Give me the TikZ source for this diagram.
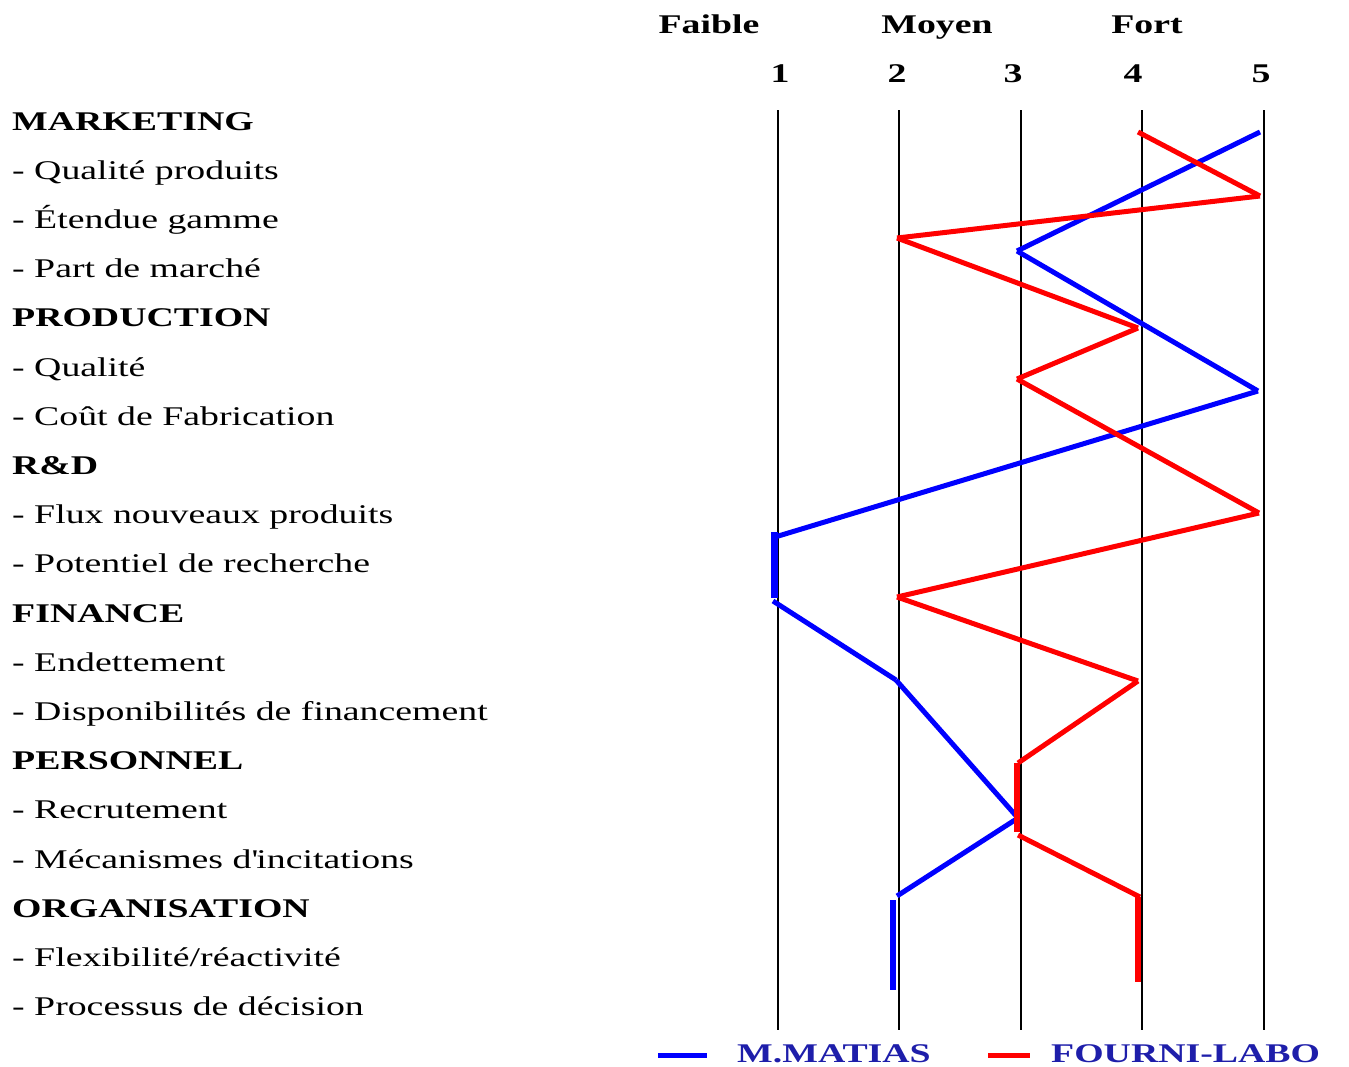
\documentclass[tikz,border=0pt]{standalone}
\usepackage{fontspec}
\setmainfont[FakeStretch=1.4]{Liberation Serif}
\definecolor{legtext}{RGB}{30,30,170}
\definecolor{pblue}{RGB}{0,0,255}
\definecolor{pred}{RGB}{255,0,0}
\begin{document}
\begin{tikzpicture}[x=1pt,y=-1pt,
  lab/.style={anchor=base west, inner sep=0pt, font=\fontsize{27}{30}\selectfont},
  cat/.style={anchor=base west, inner sep=0pt, font=\fontsize{27}{30}\selectfont\bfseries},
  hd/.style={anchor=base, inner sep=0pt, font=\fontsize{27}{30}\selectfont\bfseries},
  leg/.style={anchor=base west, inner sep=0pt, font=\fontsize{27}{30}\selectfont\bfseries, text=legtext},
  grid/.style={draw=black, line width=1.8pt},
  bl/.style={draw=pblue, line width=5pt},
  rd/.style={draw=pred, line width=5pt},
  blbar/.style={draw=pblue, line width=6.5pt},
  rdbar/.style={draw=pred, line width=6.5pt}]
\useasboundingbox (0,0) rectangle (1349,1066);

% headers
\node[hd] (hf) at (709,33) {Faible};
\node[hd] (hm) at (937,33) {Moyen};
\node[hd] (ht) at (1147,33) {Fort};
\node[hd] (n1) at (780,82) {1};
\node[hd] (n2) at (897,82) {2};
\node[hd] (n3) at (1013,82) {3};
\node[hd] (n4) at (1133,82) {4};
\node[hd] (n5) at (1261,82) {5};

% row labels
\node[cat] (r0)  at (12,130.0) {MARKETING};
\node[lab] (r1)  at (12,179.2) {- Qualité produits};
\node[lab] (r2)  at (12,228.4) {- Étendue gamme};
\node[lab] (r3)  at (12,277.6) {- Part de marché};
\node[cat] (r4)  at (12,326.8) {PRODUCTION};
\node[lab] (r5)  at (12,376.0) {- Qualité};
\node[lab] (r6)  at (12,425.2) {- Coût de Fabrication};
\node[cat] (r7)  at (12,474.4) {R\&D};
\node[lab] (r8)  at (12,523.6) {- Flux nouveaux produits};
\node[lab] (r9)  at (12,572.8) {- Potentiel de recherche};
\node[cat] (r10) at (12,622.0) {FINANCE};
\node[lab] (r11) at (12,671.2) {- Endettement};
\node[lab] (r12) at (12,720.4) {- Disponibilités de financement};
\node[cat] (r13) at (12,769.6) {PERSONNEL};
\node[lab] (r14) at (12,818.8) {- Recrutement};
\node[lab] (r15) at (12,868.0) {- Mécanismes d\textquotesingle incitations};
\node[cat] (r16) at (12,917.2) {ORGANISATION};
\node[lab] (r17) at (12,966.4) {- Flexibilité/réactivité};
\node[lab] (r18) at (12,1015.6) {- Processus de décision};

% grid lines
\foreach \x [count=\k] in {778,899,1021,1142,1264}{
  \coordinate (gt\k) at (\x,110);
  \coordinate (gb\k) at (\x,1030);
  \draw[grid] (gt\k) -- (gb\k);
}

% blue profile (M.MATIAS)
\coordinate (B1) at (1260,132);
\coordinate (B2) at (1017,251);
\coordinate (B3) at (1258,391);
\coordinate (B4) at (775,537);
\coordinate (B4a) at (774.5,532);
\coordinate (B4b) at (774.5,598);
\coordinate (B5) at (773,601);
\coordinate (B6) at (896,680);
\coordinate (B7) at (1018,818);
\coordinate (B8) at (897,896);
\coordinate (B9a) at (893,900);
\coordinate (B9b) at (893,990);
\draw[bl] (B1) -- (B2);
\draw[bl] (B2) -- (B3);
\draw[bl] (B3) -- (B4);
\draw[blbar] (B4a) -- (B4b);
\draw[bl] (B5) -- (B6);
\draw[bl] (B6) -- (B7);
\draw[bl] (B7) -- (B8);
\draw[blbar] (B9a) -- (B9b);

% red profile (FOURNI-LABO)
\coordinate (R1) at (1138,132);
\coordinate (R2) at (1260,196);
\coordinate (R3) at (897,238);
\coordinate (R4) at (1138,328);
\coordinate (R5) at (1017,379);
\coordinate (R6) at (1259,513);
\coordinate (R7) at (897,597);
\coordinate (R8) at (1138,681);
\coordinate (R9) at (1018,763);
\coordinate (R9a) at (1017,763);
\coordinate (R9b) at (1017,832);
\coordinate (R10) at (1018,835);
\coordinate (R11) at (1140,897);
\coordinate (R12a) at (1138,897);
\coordinate (R12b) at (1138,982);
\draw[rd] (R1) -- (R2);
\draw[rd] (R2) -- (R3);
\draw[rd] (R3) -- (R4);
\draw[rd] (R4) -- (R5);
\draw[rd] (R5) -- (R6);
\draw[rd] (R6) -- (R7);
\draw[rd] (R7) -- (R8);
\draw[rd] (R8) -- (R9);
\draw[rdbar] (R9a) -- (R9b);
\draw[rd] (R10) -- (R11);
\draw[rdbar] (R12a) -- (R12b);

% legend
\coordinate (LB1) at (658,1055);
\coordinate (LB2) at (707,1055);
\coordinate (LR1) at (988,1055);
\coordinate (LR2) at (1030,1055);
\draw[draw=pblue, line width=5pt] (LB1) -- (LB2);
\draw[draw=pred, line width=5pt] (LR1) -- (LR2);
\node[leg] (lm) at (737,1062) {M.MATIAS};
\node[leg] (lf) at (1051,1062) {FOURNI-LABO};
\end{tikzpicture}
\end{document}
